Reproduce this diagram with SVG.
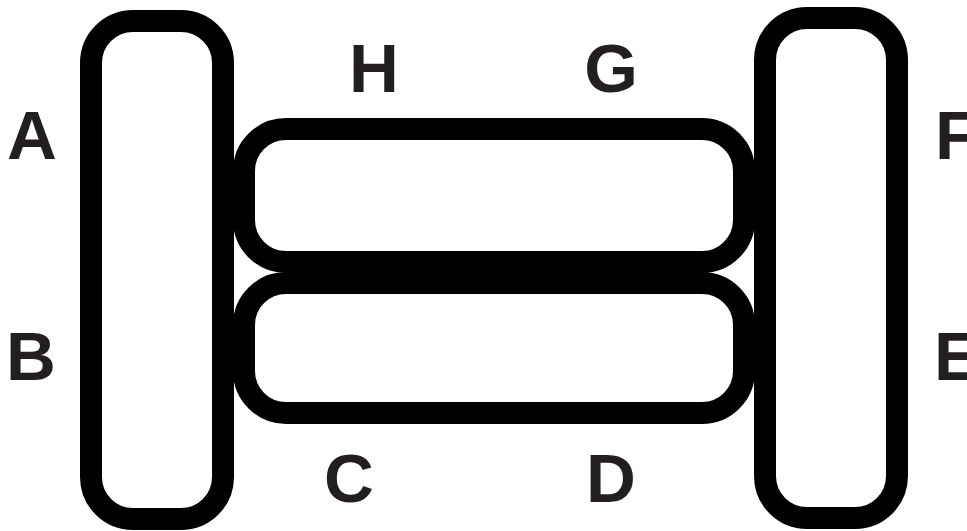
<svg xmlns="http://www.w3.org/2000/svg" width="967" height="531" viewBox="0 0 967 531">
<style>
.box{fill:none;stroke:#000;stroke-width:22}
.lbl{font-family:"Liberation Sans",Arial,sans-serif;font-weight:bold;font-size:69px;fill:#231f20}
</style>
<rect width="967" height="531" fill="#fff"/>
<g id="left">
<rect class="box" x="91" y="21" width="132" height="498" rx="42"/>
</g>
<g id="right">
<rect class="box" x="765" y="18" width="132" height="500" rx="42"/>
</g>
<g id="top">
<rect class="box" x="244" y="129" width="500" height="133" rx="42"/>
</g>
<g id="bottom">
<rect class="box" x="244" y="283" width="500" height="130" rx="42"/>
</g>
<g id="connectors"></g>
<g id="labels">
<text class="lbl" x="32" y="159" text-anchor="middle">A</text>
<text class="lbl" x="31" y="380" text-anchor="middle">B</text>
<text class="lbl" x="349" y="502" text-anchor="middle">C</text>
<text class="lbl" x="611" y="502" text-anchor="middle">D</text>
<text class="lbl" x="934" y="380">E</text>
<text class="lbl" x="935" y="159">F</text>
<text class="lbl" x="611" y="92" text-anchor="middle">G</text>
<text class="lbl" x="374" y="92" text-anchor="middle">H</text>
</g>
</svg>
